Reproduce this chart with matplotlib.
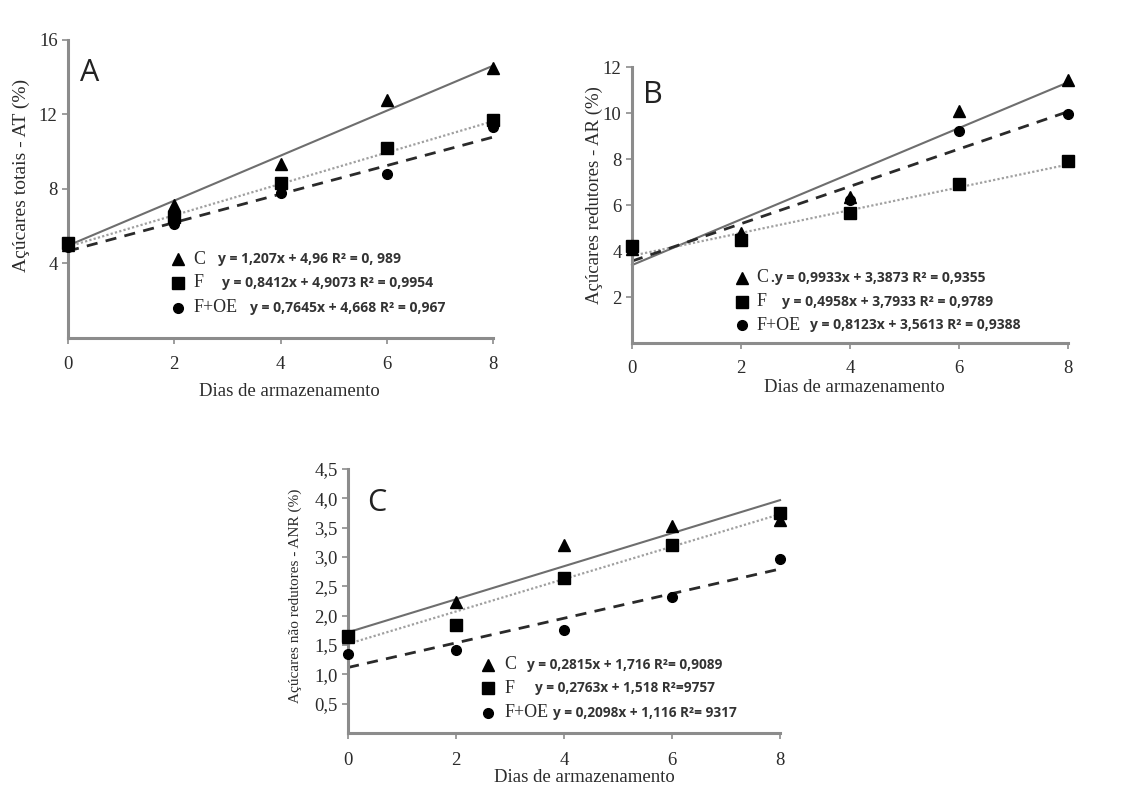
import matplotlib
matplotlib.use("Agg")
import matplotlib.pyplot as plt
import numpy as np

# ---------------- data ----------------
days = [0, 2, 4, 6, 8]
series_names = ["C", "F", "F+OE"]

# Panel A - Açúcares totais (AT)
at_C = [5.0, 7.15, 9.35, 12.8, 14.5]
at_F = [5.1, 6.5, 8.3, 10.2, 11.7]
at_FOE = [4.9, 6.1, 7.8, 8.8, 11.35]
at_slope = [1.207, 0.8412, 0.7645]
at_icpt = [4.96, 4.9073, 4.668]
at_eq = ["y = 1,207x + 4,96 R² = 0, 989",
         "y = 0,8412x + 4,9073 R² = 0,9954",
         "y = 0,7645x + 4,668 R² = 0,967"]

# Panel B - Açúcares redutores (AR)
ar_C = [4.1, 4.8, 6.35, 10.1, 11.45]
ar_F = [4.2, 4.5, 5.65, 6.9, 7.9]
ar_FOE = [4.1, 4.6, 6.2, 9.2, 9.95]
ar_slope = [0.9933, 0.4958, 0.8123]
ar_icpt = [3.3873, 3.7933, 3.5613]
ar_eq = [".y = 0,9933x + 3,3873 R² = 0,9355",
         "y = 0,4958x + 3,7933 R² = 0,9789",
         "y = 0,8123x + 3,5613 R² = 0,9388"]

# Panel C - Açúcares não redutores (ANR)
anr_C = [1.63, 2.23, 3.2, 3.52, 3.63]
anr_F = [1.65, 1.84, 2.64, 3.2, 3.75]
anr_FOE = [1.35, 1.41, 1.75, 2.32, 2.96]
anr_slope = [0.2815, 0.2763, 0.2098]
anr_icpt = [1.716, 1.518, 1.116]
anr_eq = ["y = 0,2815x + 1,716 R²= 0,9089",
          "y = 0,2763x + 1,518 R²=9757",
          "y = 0,2098x + 1,116 R²= 9317"]

a_yticks = [4, 8, 12, 16]
a_yticklabels = ["4", "8", "12", "16"]
b_yticks = [2, 4, 6, 8, 10, 12]
b_yticklabels = ["2", "4", "6", "8", "10", "12"]
c_yticks = [0.5, 1.0, 1.5, 2.0, 2.5, 3.0, 3.5, 4.0, 4.5]
c_yticklabels = ["0,5", "1,0", "1,5", "2,0", "2,5", "3,0", "3,5", "4,0", "4,5"]
xticklabels = ["0", "2", "4", "6", "8"]

# ---------------- styles ----------------
SERIF = "Liberation Serif"
SANS = "Open Sans"
markers = ["^", "s", "o"]
msizes = [8, 8, 7]
line_styles = [
    dict(color="#6e6e6e", lw=1.5, ls="-"),
    dict(color="#a0a0a0", lw=1.6, ls=(0, (1, 1))),
    dict(color="#2a2a2a", lw=2.0, ls=(0, (4, 3))),
]
SPINE = "#8c8c8c"
TXT = "#2b2b2b"

fig = plt.figure(figsize=(11.30, 7.96), dpi=100)
fig.patch.set_facecolor("white")


def panel(rect, ys, slopes, icpts, eqs, ymax, yticks, yticklabels, ylabel,
          letter, letter_pos, leg_mx, leg_my, leg_lx, eq_x, ylab_pos, xlab_pos,
          ylab_size, xpad, eq_size):
    ax = fig.add_axes(rect)
    for i, y in enumerate(ys):
        x0, x1 = days[0], days[-1]
        ax.plot([x0, x1], [icpts[i] + slopes[i] * x0, icpts[i] + slopes[i] * x1],
                zorder=2, clip_on=False, **line_styles[i])
    for i, y in enumerate(ys):
        ax.plot(days, y, ls="none", marker=markers[i], ms=msizes[i],
                color="black", zorder=3, clip_on=False)
    ax.set_xlim(0, 8)
    ax.set_ylim(0, ymax)
    ax.set_xticks(days)
    ax.set_xticklabels(xticklabels)
    ax.set_yticks(yticks)
    ax.set_yticklabels(yticklabels)
    for s in ["top", "right"]:
        ax.spines[s].set_visible(False)
    for s in ["left", "bottom"]:
        ax.spines[s].set_color(SPINE)
        ax.spines[s].set_linewidth(2.2)
    ax.tick_params(axis="both", direction="out", length=4, width=1.2,
                   color=SPINE, labelcolor=TXT)
    ax.tick_params(axis="x", pad=xpad)
    for lab in ax.get_xticklabels() + ax.get_yticklabels():
        lab.set_fontfamily(SERIF)
        lab.set_fontsize(13.5)
    ax.set_ylabel(ylabel, fontfamily=SERIF, fontsize=ylab_size, color=TXT)
    ax.yaxis.set_label_coords(*ylab_pos)
    ax.set_xlabel("Dias de armazenamento", fontfamily=SERIF, fontsize=13.5,
                  color=TXT)
    ax.xaxis.set_label_coords(*xlab_pos)
    ax.text(letter_pos[0], letter_pos[1], letter, transform=ax.transAxes,
            fontfamily=SANS, fontsize=22, color="#222", ha="left", va="center")
    for i in range(3):
        ax.plot([leg_mx], [leg_my[i]], ls="none", marker=markers[i],
                ms=msizes[i], color="black", transform=ax.transAxes,
                clip_on=False)
        ax.text(leg_lx, leg_my[i], series_names[i], transform=ax.transAxes,
                fontfamily=SERIF, fontsize=13, color=TXT, ha="left",
                va="center")
        ax.text(eq_x[i], leg_my[i], eqs[i], transform=ax.transAxes,
                fontfamily=SANS, fontsize=eq_size, fontweight="bold",
                color="#333", ha="left", va="center")
    return ax


panel([0.0602, 0.5754, 0.3761, 0.3744], [at_C, at_F, at_FOE], at_slope, at_icpt,
      at_eq, 16, a_yticks, a_yticklabels, "Açúcares totais - AT (%)",
      "A", (0.028, 0.89), 0.259, [0.265, 0.185, 0.101], 0.295,
      [0.353, 0.362, 0.428], (-0.089, 0.547), (0.522, -0.15), 14, 9, 10.0)

panel([0.5593, 0.5691, 0.3858, 0.3467], [ar_C, ar_F, ar_FOE], ar_slope, ar_icpt,
      ar_eq, 12, b_yticks, b_yticklabels, "Açúcares redutores - AR (%)",
      "B", (0.025, 0.90), 0.252, [0.236, 0.149, 0.065], 0.285,
      [0.318, 0.344, 0.408], (-0.067, 0.536), (0.509, -0.13), 13.5, 8, 10.0)

panel([0.3080, 0.0792, 0.3823, 0.3317], [anr_C, anr_F, anr_FOE], anr_slope,
      anr_icpt, anr_eq, 4.5, c_yticks, c_yticklabels,
      "Açúcares não redutores - ANR (%)",
      "C", (0.044, 0.87), 0.324, [0.258, 0.170, 0.076], 0.362,
      [0.414, 0.433, 0.475], (-0.106, 0.519), (0.546, -0.135), 11, 10, 9.8)

fig.savefig("out.png", dpi=100, facecolor="white")
